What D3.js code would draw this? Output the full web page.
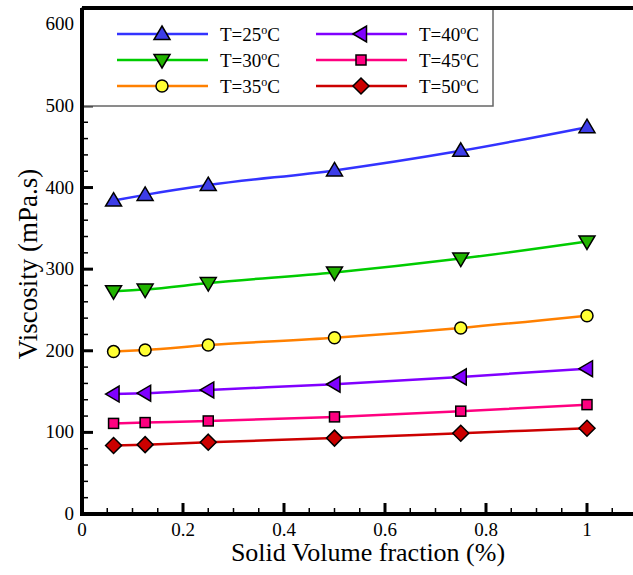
<!DOCTYPE html>
<html>
<head>
<meta charset="utf-8">
<script src="https://cdn.jsdelivr.net/npm/d3@7"></script>
<style>
  body { margin: 0; background: #fff; }
  svg { display: block; }
  text { font-family: "Liberation Serif", "Times New Roman", serif; }
</style>
</head>
<body>
<svg id="svg1"></svg>
<script>
const width = 633;
const height = 575;

const fractions = [0.0625, 0.125, 0.25, 0.5, 0.75, 1];
const labels = ["25", "30", "35", "40", "45", "50"];
const v25 = [384, 391, 403, 421, 445, 474];
const v30 = [273, 275, 283, 296, 313, 334];
const v35 = [199, 201, 207, 216, 228, 243];
const v40 = [147, 148, 152, 159, 168, 178];
const v45 = [111, 112, 114, 119, 126, 134];
const v50 = [84, 85, 88, 93, 99, 105];
const xTicks = [0, 0.2, 0.4, 0.6, 0.8, 1];
const yTicks = [0, 100, 200, 300, 400, 500, 600];

const series = [
  {name: labels[0], values: v25, line: "#3333ff", fill: "#3d3de8", shape: "up"},
  {name: labels[1], values: v30, line: "#00cc00", fill: "#22b400", shape: "down"},
  {name: labels[2], values: v35, line: "#ff8000", fill: "#ffff33", shape: "circle"},
  {name: labels[3], values: v40, line: "#8000ff", fill: "#8000ff", shape: "left"},
  {name: labels[4], values: v45, line: "#ff0080", fill: "#ff0080", shape: "square"},
  {name: labels[5], values: v50, line: "#cc0000", fill: "#cc0000", shape: "diamond"}
];

const margin = {top: 8, right: -5, bottom: 61, left: 82};

const svg = d3.select("#svg1")
    .attr("width", width)
    .attr("height", height)
    .attr("viewBox", [0, 0, width, height]);

const x = d3.scaleLinear().domain([0, 1.1]).range([margin.left, margin.left + 555.5]);
const y = d3.scaleLinear().domain([0, 620]).range([height - margin.bottom, margin.top]);

const g = svg.append("g");

// ticks on x, major every 0.2, minor every 0.05
const isMajorX = d => Math.abs(d / 0.2 - Math.round(d / 0.2)) < 1e-6;
g.selectAll(".xt")
  .data(d3.range(0, 1.1001, 0.05))
  .join("line")
    .attr("x1", d => x(d)).attr("x2", d => x(d))
    .attr("y1", y(0))
    .attr("y2", d => isMajorX(d) ? y(0) - 11 : y(0) - 6)
    .attr("stroke", "#000")
    .attr("stroke-width", d => isMajorX(d) ? 3 : 1.5);

g.selectAll(".yt")
  .data(d3.range(0, 621, 20))
  .join("line")
    .attr("y1", d => y(d)).attr("y2", d => y(d))
    .attr("x1", x(0))
    .attr("x2", d => d % 100 === 0 ? x(0) + 11 : x(0) + 6)
    .attr("stroke", "#000")
    .attr("stroke-width", d => d % 100 === 0 ? 3 : 1.5);

g.selectAll(".xl")
  .data(xTicks)
  .join("text")
    .attr("x", d => x(d))
    .attr("y", y(0) + 22)
    .attr("text-anchor", "middle")
    .style("font-size", "19px")
    .text(d => d3.format("~g")(d));

g.selectAll(".yl")
  .data(yTicks)
  .join("text")
    .attr("x", x(0) - 8)
    .attr("y", d => y(d) + 6)
    .attr("text-anchor", "end")
    .style("font-size", "19px")
    .text(d => d);

// curves
const line = d3.line()
    .x((d, i) => x(fractions[i]))
    .y(d => y(d))
    .curve(d3.curveMonotoneX);

const plot = svg.append("g");
plot.selectAll("path")
  .data(series)
  .join("path")
    .attr("d", d => line(d.values))
    .attr("fill", "none")
    .attr("stroke", d => d.line)
    .attr("stroke-width", 2.5);

function marker(sel, shape, fill) {
  let el;
  if (shape === "circle") {
    el = sel.append("circle").attr("r", 6);
  } else if (shape === "square") {
    el = sel.append("rect").attr("x", -5).attr("y", -5).attr("width", 10).attr("height", 10);
  } else if (shape === "diamond") {
    el = sel.append("path").attr("d", "M0,-8L8,0L0,8L-8,0Z");
  } else if (shape === "up") {
    el = sel.append("path").attr("d", "M0,-8L8,5.5L-8,5.5Z");
  } else if (shape === "down") {
    el = sel.append("path").attr("d", "M0,8L8,-5.5L-8,-5.5Z");
  } else {
    el = sel.append("path").attr("d", "M-8,0L5.5,-8L5.5,8Z");
  }
  el.attr("fill", fill).attr("stroke", "#000").attr("stroke-width", 1.5);
}

series.forEach(s => {
  s.values.forEach((v, i) => {
    const m = plot.append("g").attr("transform", `translate(${x(fractions[i])},${y(v)})`);
    marker(m, s.shape, s.fill);
  });
});

// legend
const legend = svg.append("g");
legend.append("rect")
    .attr("x", x(0)).attr("y", margin.top)
    .attr("width", 493 - x(0)).attr("height", 106 - margin.top)
    .attr("fill", "#fff")
    .attr("stroke", "#666")
    .attr("stroke-width", 1.5);

series.forEach((s, i) => {
  const col = Math.floor(i / 3), row = i % 3;
  const lx = 117 + col * 199, ly = 34 + row * 26;
  const e = legend.append("g");
  e.append("line")
      .attr("x1", lx).attr("x2", lx + 91)
      .attr("y1", ly).attr("y2", ly)
      .attr("stroke", s.line).attr("stroke-width", 2.5);
  marker(e.append("g").attr("transform", `translate(${lx + 45},${ly})`), s.shape, s.fill);
  const t = e.append("text")
      .attr("x", lx + 103).attr("y", ly + 7)
      .style("font-size", "19px");
  t.append("tspan").text(`T=${s.name}`);
  t.append("tspan").attr("dy", -7).style("font-size", "12px").text("o");
  t.append("tspan").attr("dy", 7).text("C");
});

// frame lines (left, bottom, top)
svg.append("path")
    .attr("d", `M${x(0)},${y(620)}V${y(0)}H${width}M${x(0)},${y(620)}H${width}`)
    .attr("fill", "none")
    .attr("stroke", "#000")
    .attr("stroke-width", 4);

// titles
svg.append("text")
    .attr("x", 368)
    .attr("y", 561)
    .attr("text-anchor", "middle")
    .style("font-size", "26px")
    .text("Solid Volume fraction (%)");

svg.append("text")
    .attr("transform", `translate(37,${(y(0) + y(620)) / 2 + 3}) rotate(-90)`)
    .attr("text-anchor", "middle")
    .style("font-size", "27px")
    .text("Viscosity (mPa.s)");
</script>
</body>
</html>
